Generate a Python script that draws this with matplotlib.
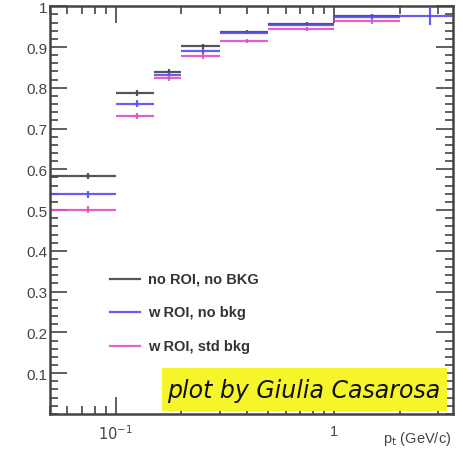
import numpy as np
import matplotlib.pyplot as plt
from matplotlib.patches import Rectangle
from matplotlib.ticker import MultipleLocator, LogLocator, FixedLocator, NullFormatter

# pt bin edges (GeV/c)
bin_edges = [0.05, 0.1, 0.15, 0.2, 0.3, 0.5, 1.0, 2.0, 3.5]

# efficiency per bin
eff_noroi = [0.584, 0.787, 0.838, 0.902, 0.937, 0.957, 0.976, np.nan]
err_noroi = [0.008, 0.007, 0.007, 0.006, 0.004, 0.004, 0.006, np.nan]
eff_roi = [0.539, 0.761, 0.831, 0.889, 0.935, 0.955, 0.974, 0.975]
err_roi = [0.009, 0.008, 0.007, 0.006, 0.004, 0.004, 0.006, 0.021]
eff_roibkg = [0.501, 0.731, 0.824, 0.877, 0.915, 0.944, 0.963, np.nan]
err_roibkg = [0.009, 0.008, 0.007, 0.006, 0.004, 0.004, 0.006, np.nan]

labels = ["no ROI, no BKG", "w ROI, no bkg", "w ROI, std bkg"]
colors = ["#444444", "#5a4cf0", "#e050c8"]

edges = np.array(bin_edges)
centers = 0.5 * (edges[:-1] + edges[1:])
xerr = 0.5 * (edges[1:] - edges[:-1])

fig = plt.figure(figsize=(4.63, 4.52), dpi=100)
ax = fig.add_axes([0.108, 0.082, 0.870, 0.902])

series = [(eff_noroi, err_noroi), (eff_roi, err_roi), (eff_roibkg, err_roibkg)]
for (y, e), c in zip(series, colors):
    ax.errorbar(centers, y, xerr=xerr, yerr=e, fmt="none", ecolor=c,
                elinewidth=1.6, capsize=0, alpha=0.9)

ax.set_xscale("log")
ax.set_xlim(0.05, 3.5)
ax.set_ylim(0, 1)

# ROOT-like ticks
ax.yaxis.set_major_locator(FixedLocator(np.arange(0.1, 1.01, 0.1)))
ax.yaxis.set_minor_locator(MultipleLocator(0.02))
ax.set_yticklabels(["0.1", "0.2", "0.3", "0.4", "0.5", "0.6", "0.7", "0.8", "0.9", "1"])
ax.xaxis.set_major_locator(FixedLocator([0.1, 1]))
ax.set_xticklabels([r"$10^{-1}$", "1"])
ax.xaxis.set_minor_locator(LogLocator(base=10, subs=np.arange(2, 10)))
ax.xaxis.set_minor_formatter(NullFormatter())
ax.tick_params(which="both", direction="in", top=True, right=True,
               color="#444444", width=1.2, labelcolor="#444444", labelsize=11)
ax.tick_params(which="major", length=12)
ax.tick_params(which="minor", length=6)
ax.tick_params(axis="x", pad=7, labelsize=10.5)
ax.tick_params(axis="y", pad=2)
for lab in ax.get_yticklabels() + ax.get_xticklabels():
    lab.set_family("Liberation Sans")
for s in ax.spines.values():
    s.set_linewidth(1.8)
    s.set_color("#444444")

# legend drawn by hand like the ROOT TLegend
for i, (lab, c) in enumerate(zip(labels, colors)):
    yy = 0.331 - i * 0.082
    ax.plot([0.149, 0.223], [yy, yy], transform=ax.transAxes, color=c, lw=1.6, alpha=0.9)
    ax.text(0.243, yy, lab, transform=ax.transAxes, va="center", ha="left",
            fontsize=10.5, fontweight="bold", color="#333333", family="Liberation Sans")

ax.text(0.995, -0.058, r"p$_{\rm t}$ (GeV/c)", transform=ax.transAxes, ha="right", va="center",
        fontsize=10.5, color="#444444", family="Liberation Sans")

# yellow credit box
fig.patches.append(Rectangle((162 / 463, 40 / 452), 285 / 463, 43 / 452,
                             transform=fig.transFigure, facecolor="#f5f52a",
                             edgecolor="none", zorder=5))
fig.text(304 / 463, 61 / 452, "plot by Giulia Casarosa", ha="center", va="center",
         fontsize=17, style="italic", color="#111111", family="DejaVu Sans",
         fontweight="light", zorder=6)

fig.savefig("out.png", dpi=100)
